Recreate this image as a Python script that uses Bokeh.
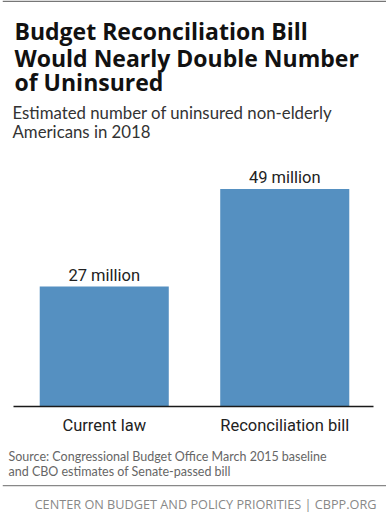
from bokeh.plotting import figure
from bokeh.models import ColumnDataSource, FactorRange, Range1d, Label, LabelSet, BoxAnnotation
from bokeh.core.properties import value
from bokeh.embed import file_html
from bokeh.resources import INLINE

categories = ["Current law", "Reconciliation bill"]
uninsured_millions = [27, 49]
value_labels = [f"{v} million" for v in uninsured_millions]

title_lines = ["Budget Reconciliation Bill", "Would Nearly Double Number", "of Uninsured"]
subtitle_lines = ["Estimated number of uninsured non-elderly", "Americans in 2018"]
source_lines = ["Source: Congressional Budget Office March 2015 baseline",
                "and CBO estimates of Senate-passed bill"]
footer_text = "CENTER ON BUDGET AND POLICY PRIORITIES | CBPP.ORG"

W, H = 386, 514
L = 2                 # left border of the frame
BASE = 406            # pixel row of the bar baseline
KY = 4.44             # pixels per million

def ydata(py):
    return (BASE - py) / KY

src = ColumnDataSource(dict(cat=categories, val=uninsured_millions, lab=value_labels,
                            zero=[0] * len(categories)))

p = figure(width=W, height=H,
           x_range=FactorRange(factors=categories, range_padding=0.0637),
           y_range=Range1d(ydata(H), ydata(0)),
           output_backend="svg", toolbar_location=None,
           min_border_left=L, min_border_right=0, min_border_top=0, min_border_bottom=0)
p.outline_line_color = None
p.grid.visible = False
p.axis.visible = False
p.background_fill_color = "white"
p.border_fill_color = "white"

p.vbar(x="cat", top="val", width=0.715, source=src, fill_color="#5590c1", line_color=None)

COND = value("Roboto")
p.add_layout(LabelSet(x="cat", y="val", text="lab", source=src, text_align="center",
                      text_baseline="alphabetic", y_offset=6, text_font=COND,
                      text_font_size="16.5px", text_color="#222222"))
p.add_layout(LabelSet(x="cat", y="zero", text="cat", source=src, text_align="center",
                      text_baseline="alphabetic", y_offset=-24, text_font=COND,
                      text_font_size="16.5px", text_color="#222222"))

def add_label(text, px, py, size, color, style="normal", font="Open Sans", align="left"):
    p.add_layout(Label(x=px - L, y=ydata(py), x_units="screen", y_units="data",
                       text=text, text_font=font, text_font_size=size, text_color=color,
                       text_font_style=style, text_align=align, text_baseline="alphabetic"))

for t, py in zip(title_lines, [30, 57, 81]):
    add_label(t, 14, py, "23px", "#111111", style="bold")
for t, py in zip(subtitle_lines, [112, 131]):
    add_label(t, 12, py, "16.8px", "#333333", font="Lato")
for t, py in zip(source_lines, [456, 471]):
    add_label(t, 8, py, "12.5px", "#666666", font="Lato")
add_label(footer_text, 376, 503, "12.7px", "#888888", align="right")

def rule(py0, py1, color, left=None, right=None):
    kw = {}
    if left is not None:
        kw.update(left=left - L, left_units="screen")
    if right is not None:
        kw.update(right=right - L, right_units="screen")
    p.add_layout(BoxAnnotation(top=ydata(py0), bottom=ydata(py1), fill_color=color,
                               fill_alpha=1, line_color=None, **kw))

rule(0, 1.5, "#777777")
rule(405.2, 406.8, "#1a1a1a", left=13, right=373)
rule(484.5, 485.8, "#888888")

open("out.html", "w").write(file_html(p, INLINE))
